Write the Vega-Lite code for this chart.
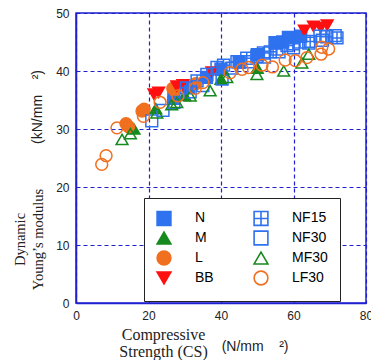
{
  "$schema": "https://vega.github.io/schema/vega-lite/v6.json",
  "width": 290,
  "height": 290,
  "autosize": "none",
  "padding": {"left": 76, "top": 13, "right": 5, "bottom": 57},
  "background": "white",
  "config": {
    "view": {"stroke": "#2020d0", "strokeWidth": 1.5},
    "axis": {
      "domainColor": "#2020d0", "domainWidth": 1.5,
      "gridColor": "#2020d0", "gridDash": [4, 3], "gridWidth": 1.2, "gridOpacity": 1,
      "ticks": false, "labelFont": "Liberation Sans", "labelFontSize": 12, "labelColor": "#222",
      "labelFlush": false, "labelPadding": 7,
      "titleFont": "Liberation Serif", "titleFontWeight": "normal", "titleColor": "#222"
    }
  },
  "layer": [
    {
      "data": {"values": [
        {"s":"N","x":27,"y":35.3},{"s":"N","x":31,"y":37.2},{"s":"N","x":36,"y":38.9},{"s":"N","x":40,"y":40.3},{"s":"N","x":45,"y":41.5},{"s":"N","x":50,"y":42.8},{"s":"N","x":54.9,"y":44.9},{"s":"N","x":57,"y":45.0},{"s":"N","x":58.6,"y":45.8},{"s":"N","x":62,"y":46.0},
        {"s":"M","x":16,"y":30.0},{"s":"M","x":22,"y":33.5},{"s":"M","x":30,"y":35.8},{"s":"M","x":40,"y":38.6},{"s":"M","x":50,"y":40.5},
        {"s":"L","x":13.8,"y":30.9},{"s":"L","x":14.5,"y":30.4},{"s":"L","x":18.2,"y":33.1},{"s":"L","x":18.8,"y":33.4},{"s":"L","x":26.7,"y":37.0},{"s":"L","x":27.2,"y":36.6},{"s":"L","x":33,"y":37.8},
        {"s":"BB","x":21.5,"y":36.0},{"s":"BB","x":22.8,"y":36.3},{"s":"BB","x":27.8,"y":37.4},{"s":"BB","x":29.5,"y":37.6},{"s":"BB","x":37.5,"y":39.8},{"s":"BB","x":63.0,"y":47.0},{"s":"BB","x":65.5,"y":47.7},{"s":"BB","x":67.5,"y":47.5},{"s":"BB","x":69.3,"y":47.9},
        {"s":"NF15","x":30.5,"y":37.1},{"s":"NF15","x":33.4,"y":38.3},{"s":"NF15","x":36.1,"y":39.4},{"s":"NF15","x":38.9,"y":40.6},{"s":"NF15","x":40.7,"y":41.0},{"s":"NF15","x":44.4,"y":41.6},{"s":"NF15","x":47.1,"y":42.2},{"s":"NF15","x":49.9,"y":42.5},{"s":"NF15","x":51.7,"y":43.1},{"s":"NF15","x":53.6,"y":43.3},{"s":"NF15","x":55.4,"y":43.8},{"s":"NF15","x":58.2,"y":44.4},{"s":"NF15","x":60,"y":44.7},{"s":"NF15","x":61.8,"y":45.0},{"s":"NF15","x":64.6,"y":45.1},{"s":"NF15","x":67.3,"y":46.0},{"s":"NF15","x":69.2,"y":45.9},{"s":"NF15","x":72.0,"y":45.7},
        {"s":"NF30","x":20.9,"y":31.4},{"s":"NF30","x":24,"y":33.2},{"s":"NF30","x":27,"y":34.6},{"s":"NF30","x":31.5,"y":36.4},{"s":"NF30","x":35,"y":37.5},{"s":"NF30","x":40.3,"y":38.6},{"s":"NF30","x":43,"y":40.5},{"s":"NF30","x":47.6,"y":41.6},{"s":"NF30","x":52,"y":42.4},{"s":"NF30","x":56,"y":43.3},{"s":"NF30","x":60,"y":44.0},{"s":"NF30","x":64.2,"y":44.8},{"s":"NF30","x":68,"y":45.3},{"s":"NF30","x":71.5,"y":46.1},
        {"s":"MF30","x":12.7,"y":28.2},{"s":"MF30","x":15.0,"y":29.2},{"s":"MF30","x":22.3,"y":32.8},{"s":"MF30","x":26.4,"y":34.2},{"s":"MF30","x":27.8,"y":34.6},{"s":"MF30","x":31.5,"y":35.7},{"s":"MF30","x":37.0,"y":36.6},{"s":"MF30","x":41.6,"y":38.9},{"s":"MF30","x":49.9,"y":39.4},{"s":"MF30","x":57.3,"y":40.0},{"s":"MF30","x":62.3,"y":41.4},{"s":"MF30","x":64.2,"y":42.9},
        {"s":"LF30","x":7.1,"y":23.9},{"s":"LF30","x":8.3,"y":25.4},{"s":"LF30","x":11.3,"y":30.2},{"s":"LF30","x":18.6,"y":32.2},{"s":"LF30","x":23.2,"y":34.6},{"s":"LF30","x":28.1,"y":35.7},{"s":"LF30","x":32.9,"y":37.0},{"s":"LF30","x":35.0,"y":38.0},{"s":"LF30","x":42.5,"y":39.7},{"s":"LF30","x":45.8,"y":40.3},{"s":"LF30","x":47.6,"y":40.6},{"s":"LF30","x":51.3,"y":41.0},{"s":"LF30","x":54.2,"y":40.7},{"s":"LF30","x":57.7,"y":41.9},{"s":"LF30","x":60.5,"y":41.8},{"s":"LF30","x":63.7,"y":42.3},{"s":"LF30","x":67.6,"y":42.9},{"s":"LF30","x":67.8,"y":44.1},{"s":"LF30","x":69.7,"y":43.8}
      ]},
      "mark": {"type": "point", "size": 140, "strokeWidth": 1.5, "opacity": 1},
      "encoding": {
        "x": {"field": "x", "type": "quantitative", "scale": {"domain": [0, 80], "nice": false},
              "axis": {"values": [0, 20, 40, 60, 80], "title": ["Compressive", "Strength (CS)"], "titleFontSize": 16, "titleX": 87, "titleY": 23, "titleAnchor": "middle", "titleAlign": "center", "titleBaseline": "top", "titleLineHeight": 17.5}},
        "y": {"field": "y", "type": "quantitative", "scale": {"domain": [0, 50], "nice": false},
              "axis": {"values": [0, 10, 20, 30, 40, 50], "title": ["Dynamic", "Young’s modulus"], "titleFontSize": 14.5, "titleX": -63, "titleY": 226, "titleAngle": 270, "titleAlign": "center", "titleBaseline": "top", "titleLineHeight": 18}},
        "stroke": {"field": "s", "type": "nominal", "title": null,
          "scale": {"domain": ["N","M","L","BB","NF15","NF30","MF30","LF30"],
                    "range": ["#2f72ef","#168a1e","#f07020","#ff1010","#2f72ef","#2f72ef","#168a1e","#f07020"]}},
        "fill": {"field": "s", "type": "nominal", "title": null,
          "scale": {"domain": ["N","M","L","BB","NF15","NF30","MF30","LF30"],
                    "range": ["#2f72ef","#168a1e","#f07020","#ff1010","transparent","transparent","transparent","transparent"]}},
        "shape": {"field": "s", "type": "nominal", "title": null,
          "scale": {"domain": ["N","M","L","BB","NF15","NF30","MF30","LF30"],
                    "range": ["square","triangle-up","circle","triangle-down","M-1,-1H1V1H-1Z M0,-1V1 M-1,0H1","square","triangle-up","circle"]},
          "legend": {"orient": "none", "legendX": 68, "legendY": 185, "columns": 2, "gridAlign": "each", "columnPadding": 36, "rowPadding": -2,
                     "padding": 12, "fillColor": "white", "strokeColor": "#222",
                     "symbolSize": 190, "symbolStrokeWidth": 1.6, "labelFont": "Liberation Sans", "labelFontSize": 14, "labelOffset": 23,
                     "title": "\u00a0", "titleOrient": "left", "titlePadding": 15, "titleFontSize": 14,
                     "encode": {"labels": {"update": {"fill": {"scale": "stroke", "field": "value"}}},
                                "legend": {"update": {"strokeWidth": {"value": 2}}}}}}
      }
    },
    {
      "data": {"values": [
        {"x": 49.4, "y": -7.6, "t": "(N/mm\u00a0\u00a0\u00a0\u00a0²)", "a": 0},
        {"x": -10.4, "y": 33.8, "t": "(kN/mm\u00a0\u00a0\u00a0\u00a0²)", "a": 270}
      ]},
      "mark": {"type": "text", "font": "Liberation Sans", "fontSize": 14, "color": "#222", "baseline": "middle", "align": "center"},
      "encoding": {
        "x": {"field": "x", "type": "quantitative"},
        "y": {"field": "y", "type": "quantitative"},
        "text": {"field": "t"},
        "angle": {"field": "a", "type": "quantitative", "scale": null}
      }
    }
  ]
}
